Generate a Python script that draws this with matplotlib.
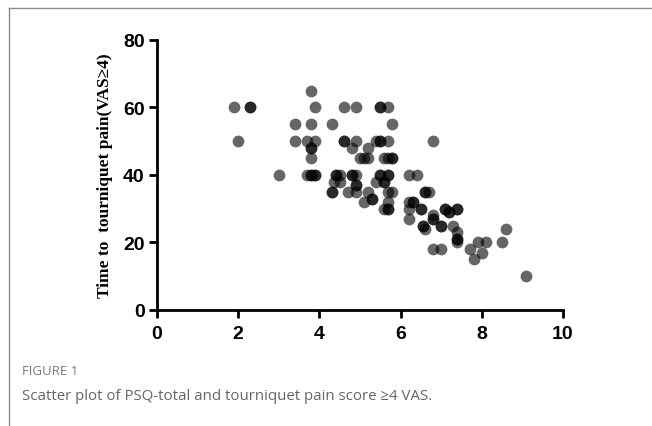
import matplotlib
matplotlib.use("Agg")
import matplotlib.pyplot as plt
from matplotlib.lines import Line2D

# PSQ-total score
psq_total = [1.9, 2.3, 2.3, 2.0, 3.0, 3.4, 3.4, 3.8, 3.9, 3.8, 3.7, 3.9, 3.8, 3.8, 3.8,
             3.7, 3.8, 3.8, 3.9, 3.9, 4.3, 4.6, 4.9, 5.5, 5.5, 5.7, 5.8, 4.6, 4.6, 4.9,
             4.8, 5.2, 5.4, 5.5, 5.5, 5.7, 5.0, 5.1, 5.2, 5.6, 5.7, 5.8, 5.8, 4.4, 4.4,
             4.5, 4.8, 4.8, 4.9, 5.5, 5.5, 5.7, 5.7, 6.2, 6.4, 4.5, 4.35, 4.3, 4.3, 4.7,
             4.9, 4.9, 4.9, 5.2, 5.1, 5.3, 5.3, 5.4, 5.6, 5.6, 5.7, 5.8, 5.6, 5.7, 5.7,
             5.7, 6.2, 6.3, 6.3, 6.2, 6.2, 6.5, 6.5, 6.6, 6.6, 6.7, 6.8, 6.8, 6.8, 6.55,
             6.55, 6.6, 7.0, 7.0, 7.1, 7.1, 7.2, 7.2, 7.4, 7.4, 7.3, 7.4, 7.4, 7.4, 7.4,
             6.8, 7.0, 7.7, 7.8, 7.9, 8.1, 8.0, 8.5, 8.6, 9.1, 6.8]
# Time to tourniquet pain (VAS >= 4)
time_to_pain = [60, 60, 60, 50, 40, 55, 50, 65, 60, 55, 50, 50, 48, 48, 45,
                40, 40, 40, 40, 40, 55, 60, 60, 60, 60, 60, 55, 50, 50, 50,
                48, 48, 50, 50, 50, 50, 45, 45, 45, 45, 45, 45, 45, 40, 40,
                40, 40, 40, 40, 40, 40, 40, 40, 40, 40, 38, 38, 35, 35, 35,
                37, 37, 35, 35, 32, 33, 33, 38, 38, 38, 35, 35, 30, 30, 30,
                32, 32, 32, 32, 30, 27, 30, 30, 35, 35, 35, 28, 27, 27, 25,
                25, 24, 25, 25, 30, 30, 29, 29, 30, 30, 25, 23, 21, 21, 20,
                18, 18, 18, 15, 20, 20, 17, 20, 24, 10, 50]

x_ticks = [0, 2, 4, 6, 8, 10]
y_ticks = [0, 20, 40, 60, 80]

fig = plt.figure(figsize=(6.52, 4.27), dpi=100)
ax = fig.add_axes([0.2408, 0.2717, 0.6227, 0.6323])

ax.scatter(psq_total, time_to_pain, s=72, color="black", alpha=0.6,
           linewidths=0, zorder=3)

ax.set_xlim(0, 10)
ax.set_ylim(0, 80)
ax.set_xticks(x_ticks)
ax.set_yticks(y_ticks)
for side in ["top", "right"]:
    ax.spines[side].set_visible(False)
for side in ["left", "bottom"]:
    ax.spines[side].set_linewidth(2.0)
ax.tick_params(axis="both", direction="out", length=6, width=2.0)
ax.tick_params(axis="x", pad=5)
ax.tick_params(axis="y", pad=3)
for lab in ax.get_xticklabels() + ax.get_yticklabels():
    lab.set_fontfamily("Liberation Sans")
    lab.set_fontweight("bold")
    lab.set_fontsize(14)

ax.set_ylabel("Time to  tourniquet pain(VAS\u22654)", family="Liberation Serif",
              fontweight="bold", fontsize=12.5, labelpad=7)

# page border lines
fig.add_artist(Line2D([9/652, 1], [1 - 9/427, 1 - 9/427], color="#8a8a8a", lw=1.0))
fig.add_artist(Line2D([9/652, 9/652], [0, 1 - 9/427], color="#8a8a8a", lw=1.0))

fig.text(22/652, 1 - 372/427, "FIGURE 1", family="Open Sans", fontsize=9.5,
         color="#7a7a7a", va="center", ha="left")
fig.text(22/652, 1 - 397/427, "Scatter plot of PSQ-total and tourniquet pain score \u22654 VAS.",
         family="Open Sans", fontsize=10.8, color="#666666", va="center", ha="left")

fig.savefig("out.png", dpi=100)
